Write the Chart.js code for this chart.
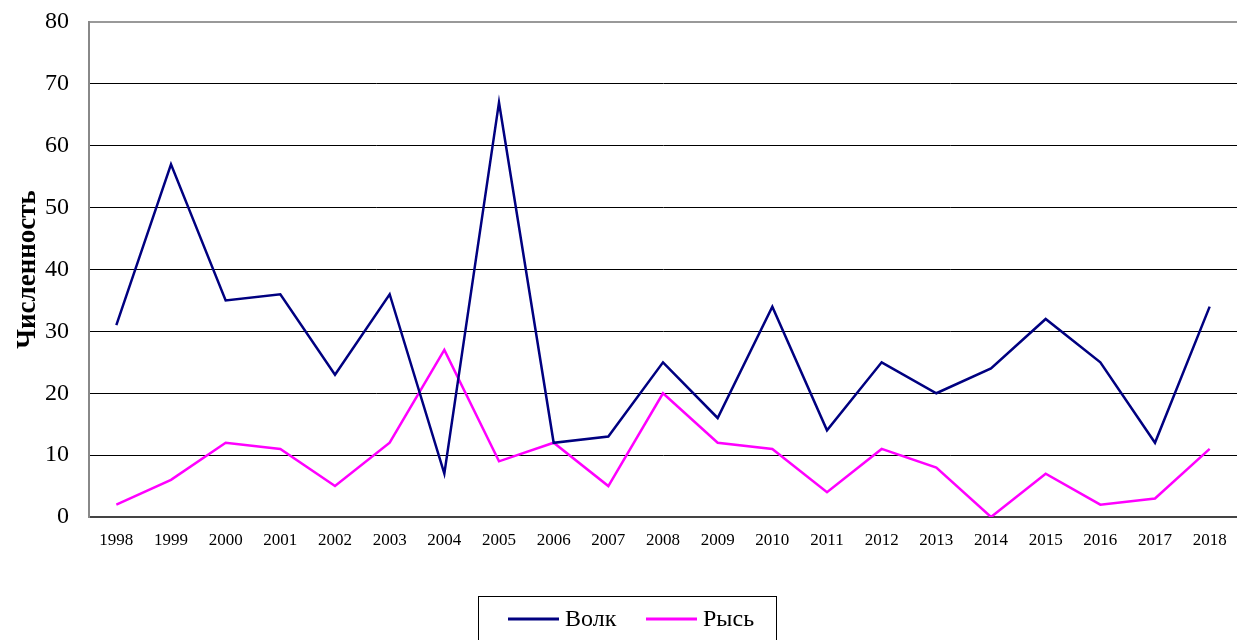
<!DOCTYPE html>
<html>
<head>
<meta charset="utf-8">
<script src="https://cdn.jsdelivr.net/npm/chart.js@4/dist/chart.umd.min.js"></script>
<style>
  html, body { margin: 0; padding: 0; background: #fff; overflow: hidden; }
  #wrap { width: 1237px; height: 640px; position: relative; }
</style>
</head>
<body>
<div id="wrap"><canvas id="chart"></canvas></div>
<script>
// Годы наблюдений
const years = ['1998', '1999', '2000', '2001', '2002', '2003', '2004', '2005', '2006', '2007',
               '2008', '2009', '2010', '2011', '2012', '2013', '2014', '2015', '2016', '2017', '2018'];

// Численность по видам
const wolf = [31, 57, 35, 36, 23, 36, 7, 67, 12, 13, 25, 16, 34, 14, 25, 20, 24, 32, 25, 12, 34];
const lynx = [2, 6, 12, 11, 5, 12, 27, 9, 12, 5, 20, 12, 11, 4, 11, 8, 0, 7, 2, 3, 11];

const yMin = 0;
const yMax = 80;
const yStep = 10;

const FONT = '"Liberation Serif", "Times New Roman", serif';

// Легенда в рамке внизу
const boxLegend = {
    id: 'boxLegend',
    afterDraw(chart) {
        const ctx = chart.ctx;
        ctx.save();
        ctx.strokeStyle = '#000';
        ctx.lineWidth = 1;
        ctx.strokeRect(478.5, 596.5, 298, 60);
        const starts = [508, 646];
        chart.data.datasets.forEach((ds, i) => {
            const x = starts[i];
            const y = 619;
            ctx.strokeStyle = ds.borderColor;
            ctx.lineWidth = 3;
            ctx.beginPath();
            ctx.moveTo(x, y);
            ctx.lineTo(x + 51, y);
            ctx.stroke();
            ctx.fillStyle = '#000';
            ctx.font = '24px ' + FONT;
            ctx.textBaseline = 'middle';
            ctx.textAlign = 'left';
            ctx.fillText(ds.label, x + 57, y + 1);
        });
        ctx.restore();
    }
};

new Chart(document.getElementById('chart'), {
    type: 'line',
    data: {
        labels: years,
        datasets: [
            { label: 'Волк', data: wolf, borderColor: '#000080', borderWidth: 2.5, pointRadius: 0, tension: 0 },
            { label: 'Рысь', data: lynx, borderColor: '#FF00FF', borderWidth: 2.5, pointRadius: 0, tension: 0 }
        ]
    },
    options: {
        responsive: true,
        maintainAspectRatio: false,
        animation: false,
        layout: { padding: { top: 22, right: 0, bottom: 0, left: 0 } },
        plugins: {
            legend: { display: false },
            tooltip: { enabled: false }
        },
        scales: {
            x: {
                offset: true,
                afterFit: (s) => { s.height = 123; s.paddingLeft = 0; s.paddingRight = 0; },
                grid: { display: false, drawTicks: false },
                border: { color: '#444', width: 2 },
                ticks: { color: '#000', padding: 13, maxRotation: 0, autoSkip: false, font: { family: FONT, size: 17 } }
            },
            y: {
                min: yMin,
                max: yMax,
                afterFit: (s) => { s.width = 89; s.paddingTop = 0; s.paddingBottom = 0; },
                grid: {
                    drawTicks: false,
                    color: (c) => c.tick.value === yMax ? '#999' : (c.tick.value === yMin ? '#444' : '#000'),
                    lineWidth: (c) => (c.tick.value === yMax || c.tick.value === yMin) ? 2 : 1
                },
                border: { color: '#888', width: 2 },
                ticks: { stepSize: yStep, color: '#000', padding: 20, font: { family: FONT, size: 24 } },
                title: {
                    display: true,
                    text: 'Численность',
                    color: '#000',
                    padding: { top: 12, bottom: 0 },
                    font: { family: FONT, size: 27, weight: 'bold' }
                }
            }
        }
    },
    plugins: [boxLegend]
});
</script>
</body>
</html>
